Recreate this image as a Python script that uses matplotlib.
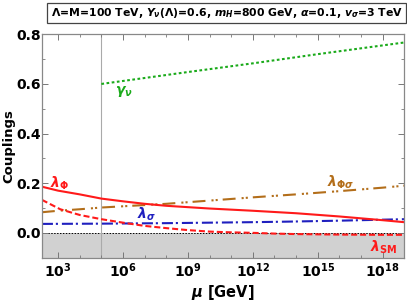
import numpy as np
import matplotlib
matplotlib.use("Agg")
import matplotlib.pyplot as plt
from matplotlib.ticker import FixedLocator, FuncFormatter, NullFormatter

plt.rcParams['font.family'] = 'DejaVu Sans'
plt.rcParams['font.weight'] = 'bold'
plt.rcParams['axes.labelweight'] = 'bold'
plt.rcParams['mathtext.fontset'] = 'custom'
plt.rcParams['mathtext.rm'] = 'DejaVu Sans:bold'
plt.rcParams['mathtext.it'] = 'DejaVu Sans:italic:bold'
plt.rcParams['mathtext.bf'] = 'DejaVu Sans:bold'

# log10(mu / GeV) sample points
d_phi = [2.25, 3, 4, 5, 6, 7, 8, 10, 12, 14, 16, 18, 19]
lam_phi = [0.186, 0.170, 0.155, 0.138, 0.127, 0.117, 0.109, 0.098, 0.089, 0.079, 0.066, 0.051, 0.043]

d_sm = [2.25, 3.1, 4, 5, 6, 7, 8, 9, 10, 11, 12, 13, 14, 16, 18, 19]
lam_sm = [0.133, 0.095, 0.072, 0.055, 0.041, 0.028, 0.019, 0.011, 0.005, 0.002, 0.0, -0.003, -0.005, -0.007, -0.008, -0.008]

d_ps = [2.25, 3, 4, 5, 6, 7, 8, 10, 12, 14, 16, 18, 19]
lam_ps = [0.083, 0.089, 0.095, 0.102, 0.107, 0.112, 0.117, 0.130, 0.143, 0.155, 0.168, 0.182, 0.190]

d_sig = [2.25, 5, 8, 10, 12, 13.5, 16, 19]
lam_sig = [0.036, 0.037, 0.039, 0.041, 0.043, 0.045, 0.049, 0.055]

d_gam = [5.0, 9, 12, 15, 19]
gam_nu = [0.600, 0.648, 0.683, 0.720, 0.767]

lam_scale = 5.0  # Lambda = 100 TeV

fig = plt.figure(figsize=(4.07, 3.01), dpi=100)
ax = fig.add_axes([0.104, 0.144, 0.889, 0.742])

lw = 1.5
ax.axhspan(-0.1, 0.0, color='#d1d1d1', lw=0, zorder=0)
ax.axhline(0.0, color='black', lw=0.7, ls=(0, (1.5, 1.5)), zorder=1)
ax.axvline(10**lam_scale, color='#aaaaaa', lw=0.8, zorder=1)

ax.plot(10**np.array(d_gam), gam_nu, color='#1aaa1a', lw=lw, dashes=(1.3, 1.2))
ax.plot(10**np.array(d_ps), lam_ps, color='#b36e1a', lw=lw, dashes=(6.2, 2.9, 1, 1, 1, 2.4))
ax.plot(10**np.array(d_sig), lam_sig, color='#1f1fbf', lw=lw, dashes=(5.3, 1.4, 1, 1.9))
ax.plot(10**np.array(d_sm), lam_sm, color='#ff1a1a', lw=lw, dashes=(2.9, 1.4))
ax.plot(10**np.array(d_phi), lam_phi, color='#ff1a1a', lw=lw)

ax.text(10**6.05, 0.568, r'$\gamma_\nu$', color='#1aaa1a', fontsize=10, ha='center', va='center')
ax.text(10**3.07, 0.200, r'$\lambda_\Phi$', color='#ff1a1a', fontsize=10, ha='center', va='center')
ax.text(10**7.1, 0.073, r'$\lambda_\sigma$', color='#1f1fbf', fontsize=10, ha='center', va='center')
ax.text(10**16.06, 0.205, r'$\lambda_{\Phi\sigma}$', color='#b36e1a', fontsize=10, ha='center', va='center')
ax.text(10**18.04, -0.06, r'$\lambda_{\rm SM}$', color='#ff1a1a', fontsize=10, ha='center', va='center')

ax.set_xscale('log')
ax.set_xlim(10**2.27, 10**19)
ax.set_ylim(-0.1, 0.8)

ax.xaxis.set_major_locator(FixedLocator([10.0**k for k in range(3, 19, 3)]))
ax.xaxis.set_minor_locator(FixedLocator([10.0**k for k in range(3, 20)]))
ax.xaxis.set_major_formatter(FuncFormatter(lambda v, p: r'$10^{%d}$' % round(np.log10(v))))
ax.xaxis.set_minor_formatter(NullFormatter())
ax.set_yticks([0.0, 0.2, 0.4, 0.6, 0.8])
ax.set_yticks(np.arange(-0.1, 0.81, 0.1), minor=True)
ax.set_yticklabels(['0.0', '0.2', '0.4', '0.6', '0.8'])

ax.tick_params(which='both', direction='in', top=True, right=True, color='#777777',
               labelsize=10, pad=3)
ax.tick_params(axis='y', pad=1)
ax.tick_params(which='major', length=4, width=0.7)
ax.tick_params(which='minor', length=2, width=0.6)
for s in ax.spines.values():
    s.set_color('#888888')
    s.set_linewidth(0.9)

ax.set_xlabel(r'$\mu$ [GeV]', fontsize=10.5, labelpad=2)
ax.set_ylabel('Couplings', fontsize=9.5)
ax.yaxis.set_label_coords(-0.075, 0.5)

fig.text(0.557, 0.957, r'$\Lambda$=M=100 TeV, $Y_\nu(\Lambda)$=0.6, $m_H$=800 GeV, $\alpha$=0.1, $v_\sigma$=3 TeV',
         ha='center', va='center', fontsize=7.8,
         bbox=dict(boxstyle='square,pad=0.3', fc='white', ec='#444444', lw=0.9))

fig.savefig('out.png', dpi=100)
